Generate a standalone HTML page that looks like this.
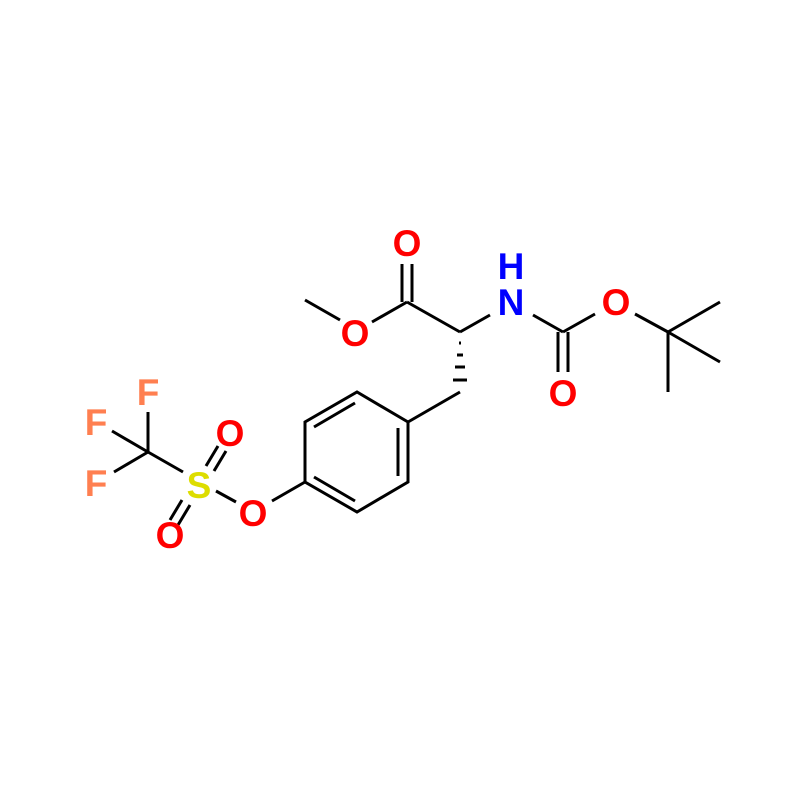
<!DOCTYPE html>
<html><head><style>body{margin:0;background:#fff}
.t{font-family:"Liberation Sans",Arial,sans-serif;font-size:37px;font-weight:bold}</style></head><body>
<svg width="790" height="784" viewBox="0 0 790 784" xmlns="http://www.w3.org/2000/svg">
<g stroke="#000" stroke-width="3" fill="none" stroke-linecap="butt">
<line x1="305" y1="300" x2="340" y2="320"/>
<line x1="372" y1="322" x2="407" y2="302"/>
<line x1="402" y1="302" x2="402" y2="264"/>
<line x1="412" y1="302" x2="412" y2="264"/>
<line x1="407" y1="302" x2="460" y2="332"/>
<line x1="460" y1="332" x2="490" y2="315"/>
<line x1="533" y1="315" x2="563" y2="332"/>
<line x1="558" y1="332" x2="558" y2="372"/>
<line x1="568" y1="332" x2="568" y2="372"/>
<line x1="563" y1="332" x2="595" y2="314"/>
<line x1="635" y1="314" x2="668" y2="332"/>
<line x1="668" y1="332" x2="720" y2="302"/>
<line x1="668" y1="332" x2="720" y2="362"/>
<line x1="668" y1="332" x2="668" y2="392"/>
<line x1="459" y1="343" x2="461" y2="343"/>
<line x1="457" y1="355" x2="463" y2="355"/>
<line x1="455" y1="367" x2="465" y2="367"/>
<line x1="453" y1="380" x2="467" y2="380"/>
<line x1="460" y1="392" x2="408" y2="422"/>
<polygon points="408,422 357,392 305,422 305,482 357,512 408,482"/>
<line x1="355" y1="403" x2="314" y2="427"/>
<line x1="398" y1="428" x2="398" y2="476"/>
<line x1="314" y1="477" x2="355" y2="501"/>
<line x1="305" y1="482" x2="272" y2="501"/>
<line x1="236" y1="502" x2="216" y2="491"/>
<line x1="148" y1="452" x2="183" y2="472"/>
<line x1="148" y1="452" x2="148" y2="412"/>
<line x1="148" y1="452" x2="112" y2="431"/>
<line x1="148" y1="452" x2="114" y2="472"/>
<line x1="206" y1="466" x2="218" y2="446"/>
<line x1="214" y1="471" x2="226" y2="451"/>
<line x1="182" y1="500" x2="170" y2="520"/>
<line x1="190" y1="505" x2="178" y2="525"/>
</g>
<g class="t" text-anchor="middle">
<text x="407" y="256" fill="#f00">O</text>
<text x="355" y="346" fill="#f00">O</text>
<text x="511" y="315" fill="#00f">N</text>
<text x="511" y="279" fill="#00f">H</text>
<text x="563" y="406" fill="#f00">O</text>
<text x="616" y="315" fill="#f00">O</text>
<text x="253" y="526" fill="#f00">O</text>
<text x="199" y="498" fill="#dd0">S</text>
<text x="230" y="446" fill="#f00">O</text>
<text x="170" y="548" fill="#f00">O</text>
<text x="148" y="405" fill="#ff7f50">F</text>
<text x="96" y="435" fill="#ff7f50">F</text>
<text x="96" y="496" fill="#ff7f50">F</text>
</g>
</svg>
</body></html>
